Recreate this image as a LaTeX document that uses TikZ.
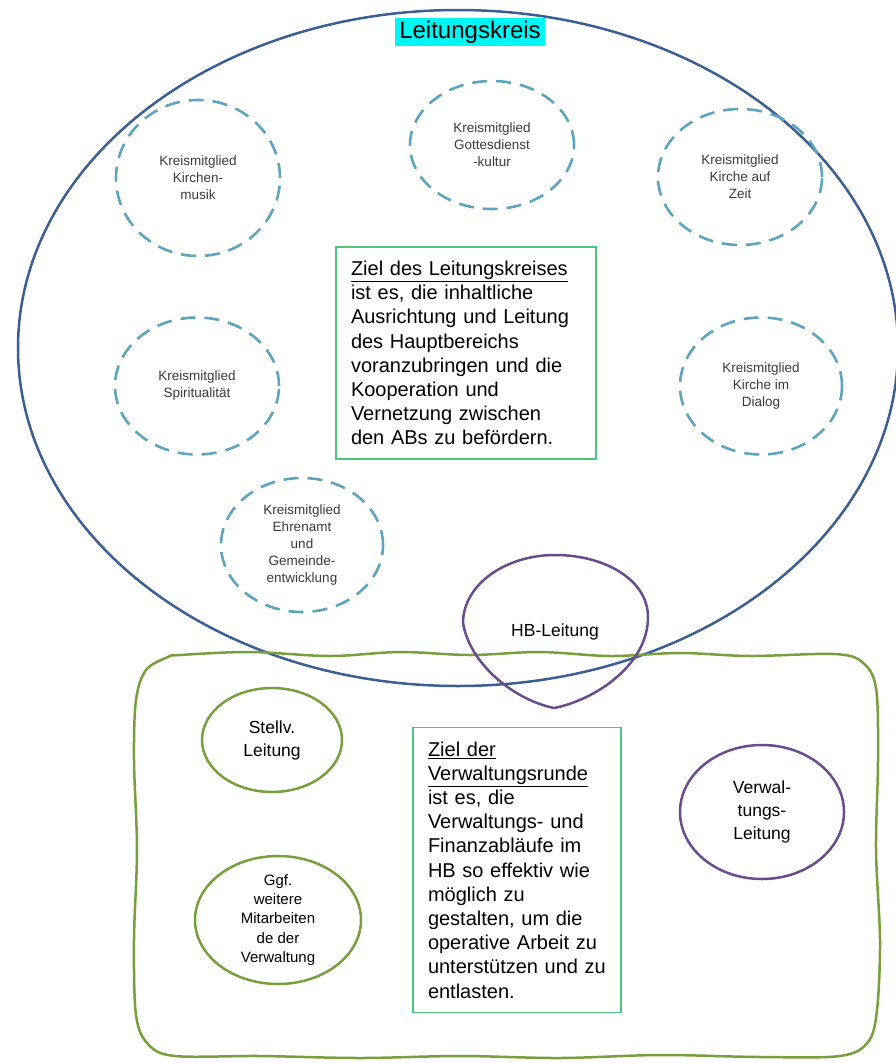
\documentclass[tikz,border=0pt]{standalone}
\usepackage{fontspec}
\setmainfont{Liberation Sans}
\usetikzlibrary{shapes.geometric}
\definecolor{kreisblau}{HTML}{3C5F93}
\definecolor{mitgliedblau}{HTML}{5DA5BF}
\definecolor{rundengruen}{HTML}{77A03C}
\definecolor{leitlila}{HTML}{6A4C8C}
\definecolor{boxgruen}{HTML}{4CC67E}
\definecolor{textgrau}{HTML}{3A3A3A}
\definecolor{titelcyan}{HTML}{00F5F5}

\begin{document}
\begin{tikzpicture}[x=1pt, y=-1pt,
  kreisrand/.style={draw=kreisblau, line width=2.5pt},
  rundenrand/.style={draw=rundengruen, line width=2.5pt},
  leitrand/.style={draw=leitlila, line width=2.5pt},
  titel/.style={fill=titelcyan, inner xsep=4pt, inner ysep=3pt,
                font=\fontsize{24}{26}\selectfont},
  mitglied/.style={ellipse, draw=mitgliedblau, line width=2.6pt,
                   dash pattern=on 15pt off 9pt, inner sep=0pt, align=center,
                   text=textgrau, font=\fontsize{13.5}{17}\selectfont},
  rundenkreis/.style={ellipse, rundenrand, inner sep=0pt, align=center},
  leitkreis/.style={ellipse, leitrand, inner sep=0pt, align=center},
  zielbox/.style={draw=boxgruen, line width=1.8pt, align=left,
                  inner xsep=15pt, font=\fontsize{20}{24.2}\selectfont}]
  \useasboundingbox (0,0) rectangle (896,1063);

  % Leitungskreis
  \draw[kreisrand] (458,348) ellipse [x radius=440pt, y radius=338pt];
  \node[titel] (titel) at (470,32) {Leitungskreis};

  % Kreismitglieder
  \node[mitglied, minimum width=164pt, minimum height=156pt] (musik) at (198,178)
    {Kreismitglied\\Kirchen-\\musik};
  \node[mitglied, minimum width=164pt, minimum height=128pt] (gottesdienst) at (492,145)
    {Kreismitglied\\Gottesdienst\\-kultur};
  \node[mitglied, minimum width=164pt, minimum height=136pt] (zeit) at (740,177)
    {Kreismitglied\\Kirche auf\\Zeit};
  \node[mitglied, minimum width=164pt, minimum height=137pt] (spiritualitaet) at (197,386)
    {Kreismitglied\\Spiritualität};
  \node[mitglied, minimum width=162pt, minimum height=137pt] (dialog) at (761,386)
    {Kreismitglied\\Kirche im\\Dialog};
  \node[mitglied, minimum width=162pt, minimum height=134pt] (ehrenamt) at (302,545)
    {Kreismitglied\\Ehrenamt\\und\\Gemeinde-\\entwicklung};

  \node[zielbox, text width=230pt, minimum height=212pt] (zielkreis) at (466,353)
    {\underline{Ziel des Leitungskreises}\\ist es, die inhaltliche\\Ausrichtung und Leitung\\des Hauptbereichs\\voranzubringen und die\\Kooperation und\\Vernetzung zwischen\\den ABs zu befördern.};

  % Verwaltungsrunde (hand-drawn frame)
  \draw[rundenrand] plot[smooth cycle, tension=0.55] coordinates {
    (180,655) (250,652) (330,656) (400,652) (470,655) (540,652) (610,656)
    (680,653) (750,656) (834,654) (862,662) (876,688) (878,760) (876,850)
    (880,940) (877,1010) (868,1042) (840,1056) (760,1057) (660,1055)
    (560,1058) (460,1056) (360,1058) (260,1056) (175,1056) (148,1044)
    (136,1015) (134,940) (137,850) (134,760) (136,700) (146,670) (168,657)};

  % HB-Leitung
  \node[font=\fontsize{17.5}{21}\selectfont] (hb) at (555,632) {HB-Leitung};
  \draw[leitrand] (554,708) .. controls (515,700) and (470,665) .. (463,623)
    .. controls (463,585) and (505,555) .. (555,555)
    .. controls (605,555) and (648,580) .. (648,617)
    .. controls (648,665) and (595,700) .. (554,708) -- cycle;

  \node[rundenkreis, minimum width=140pt, minimum height=104pt,
        font=\fontsize{17.5}{23}\selectfont] (stellv) at (272,740) {Stellv.\\Leitung};
  \node[rundenkreis, minimum width=166pt, minimum height=128pt, inner sep=-10pt,
        font=\fontsize{15}{19.3}\selectfont] (weitere) at (278,920)
    {Ggf.\\weitere\\Mitarbeiten\\de der\\Verwaltung};
  \node[leitkreis, minimum width=164pt, minimum height=134pt,
        font=\fontsize{17.5}{23}\selectfont] (verwaltung) at (762,812)
    {Verwal-\\tungs-\\Leitung};

  \node[zielbox, text width=178pt, minimum height=285pt] (zielrunde) at (517,870)
    {\underline{Ziel der}\\\underline{Verwaltungsrunde}\\ist es, die\\Verwaltungs- und\\Finanzabläufe im\\HB so effektiv wie\\möglich zu\\gestalten, um die\\operative Arbeit zu\\unterstützen und zu\\entlasten.};
\end{tikzpicture}
\end{document}
